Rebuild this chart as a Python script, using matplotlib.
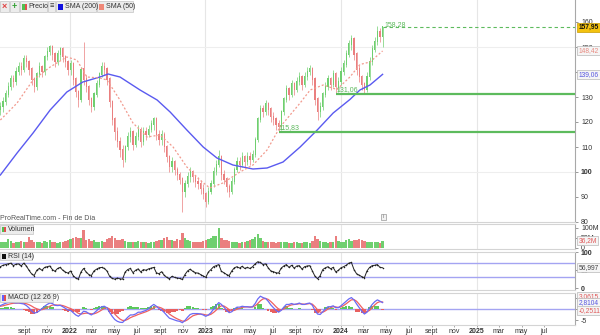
import matplotlib
matplotlib.use('Agg')
import matplotlib.pyplot as plt
import matplotlib.dates as mdates
from matplotlib.patches import Rectangle
import numpy as np
import pandas as pd

plt.rcParams['font.family'] = ['Liberation Sans', 'DejaVu Sans']
FS = 5.0
FSB = 4.8

# ---------------- data (weekly) ----------------
first_week = '2021-06-28'
first_open = 125
close = [126, 128, 131, 134, 137, 136, 140, 142, 141, 145,
         144, 141, 137, 134, 139, 142, 140, 146, 148, 150,
         147, 144, 147, 149, 146, 144, 141, 143, 137, 132,
         129, 141, 137, 134, 129, 126, 131, 135, 139, 142,
         141, 137, 128, 121, 116, 112, 109, 105, 110, 114,
         116, 111, 114, 117, 112, 116, 115, 117, 119, 121,
         115, 113, 115, 110, 106, 102, 104, 101, 99, 97,
         92, 95, 98, 100, 98, 96, 95, 93, 91, 88,
         92, 95, 100, 103, 106, 99, 97, 94, 92, 96,
         101, 104, 103, 106, 104, 106, 105, 107, 113, 121,
         125, 124, 127, 125, 122, 121, 119, 118, 124, 129,
         133, 131, 135, 133, 136, 138, 135, 138, 140, 141,
         137, 129, 124, 126, 131, 134, 137, 135, 139, 134,
         136, 140, 143, 147, 151, 153, 147, 141, 138, 135,
         133, 138, 144, 149, 152, 156, 154, 157.95]
high = [128, 130, 133, 136, 139, 139, 142, 144, 144, 147,
        147, 145, 142, 138, 140, 144, 143, 147, 150, 151,
        151, 148, 149, 150, 150, 147, 145, 145, 144, 138,
        133, 142, 152, 139, 135, 130, 132, 137, 140, 144,
        144, 142, 138, 129, 122, 118, 114, 111, 111, 116,
        118, 117, 116, 119, 118, 118, 118, 119, 121, 122,
        122, 117, 117, 116, 111, 107, 106, 105, 102, 100,
        98, 97, 100, 102, 101, 99, 98, 97, 95, 92,
        94, 97, 102, 105, 109, 107, 101, 98, 95, 98,
        102, 106, 106, 108, 107, 108, 108, 109, 114, 122,
        127, 127, 129, 128, 126, 124, 122, 121, 125, 130,
        135, 134, 137, 136, 138, 140, 139, 140, 142, 143,
        142, 138, 130, 128, 132, 136, 139, 138, 141, 140,
        138, 142, 145, 149, 153, 155, 154, 148, 143, 139,
        136, 140, 146, 151, 154, 158.28, 157.5, 158]
low = [123, 124, 127, 130, 133, 134, 135, 139, 139, 140,
       142, 139, 135, 132, 133, 138, 138, 139, 145, 147,
       145, 142, 143, 145, 144, 142, 139, 139, 135, 130,
       126, 128, 135, 132, 127, 124, 125, 130, 134, 138,
       139, 135, 126, 119, 113, 110, 106, 102, 104, 109,
       112, 109, 110, 113, 110, 111, 113, 114, 116, 117,
       113, 111, 111, 108, 104, 100, 100, 99, 97, 95,
       84, 90, 94, 96, 96, 94, 93, 91, 89, 86,
       87, 91, 94, 99, 102, 97, 95, 92, 90, 91,
       95, 100, 101, 102, 102, 103, 103, 104, 106, 112,
       120, 122, 123, 123, 120, 119, 117, 115.83, 117, 123,
       128, 129, 130, 131, 132, 135, 133, 134, 137, 139,
       135, 127, 121, 122, 125, 130, 133, 133, 134, 131.06,
       132, 135, 139, 142, 146, 149, 145, 139, 136, 133,
       131.3, 132, 137, 143, 148, 151, 152, 150]
volume_m = [28, 32, 30, 45, 34, 26, 30, 28, 35, 30,
            28, 55, 40, 32, 28, 30, 26, 35, 32, 38,
            30, 28, 26, 32, 30, 35, 38, 45, 50, 55,
            48, 52, 90, 40, 45, 35, 38, 32, 30, 35,
            32, 45, 52, 58, 50, 42, 38, 45, 35, 30,
            32, 28, 30, 35, 28, 32, 30, 26, 28, 30,
            35, 38, 42, 50, 55, 40, 38, 35, 45, 42,
            75, 50, 38, 35, 32, 30, 28, 32, 35, 38,
            45, 52, 58, 62, 100, 50, 40, 38, 35, 32,
            30, 28, 26, 30, 32, 35, 42, 45, 55, 68,
            50, 35, 30, 28, 32, 30, 26, 28, 32, 30,
            28, 26, 25, 30, 28, 25, 26, 30, 28, 26,
            35, 58, 45, 35, 30, 28, 26, 30, 32, 58,
            35, 30, 32, 38, 45, 35, 40, 38, 45, 40,
            35, 32, 28, 30, 28, 30, 26, 36.2]
rsi = [60, 64, 66, 68, 70, 63, 67, 68, 62, 70,
       62, 50, 40, 35, 50, 55, 50, 58, 60, 62,
       52, 47, 55, 58, 50, 45, 42, 48, 35, 28,
       25, 45, 55, 45, 38, 35, 48, 53, 57, 58,
       55, 48, 33, 27, 25, 28, 26, 25, 45, 52,
       55, 43, 50, 54, 45, 52, 50, 54, 56, 58,
       43, 40, 46, 36, 30, 26, 33, 30, 28, 27,
       24, 38, 48, 53, 47, 43, 42, 38, 34, 30,
       45, 52, 60, 63, 66, 47, 43, 38, 35, 48,
       57, 60, 56, 61, 55, 58, 55, 60, 68, 74,
       72, 66, 68, 57, 48, 46, 43, 42, 56, 62,
       66, 58, 64, 56, 62, 63, 53, 60, 62, 63,
       48, 33, 26, 35, 52, 57, 60, 54, 58, 45,
       50, 57, 60, 64, 70, 72, 52, 40, 36, 32,
       29, 48, 58, 63, 64, 66, 58, 56.997]
macd = [1.5, 2.0, 2.5, 2.8, 3.0, 2.8, 2.6, 2.7, 2.4, 2.2,
        1.5, 0.5, -0.8, -1.8, -1.5, -0.8, 0.2, 1.2, 2.0, 2.6,
        2.4, 1.6, 1.5, 1.6, 1.0, 0.3, -0.5, -0.6, -1.6, -2.6,
        -3.2, -2.2, -1.0, -1.2, -2.0, -2.6, -1.8, -0.8, 0.3, 1.0,
        1.2, 0.5, -1.5, -3.2, -4.6, -5.4, -5.8, -5.9, -4.8, -3.6,
        -2.6, -2.6, -2.2, -1.4, -1.4, -1.0, -0.6, 0.2, 1.2, 2.0,
        1.2, 0.2, -0.4, -1.5, -2.8, -4.0, -4.4, -4.8, -5.2, -5.4,
        -6.0, -5.0, -3.6, -2.4, -2.0, -2.0, -2.0, -2.2, -2.6, -3.2,
        -2.6, -1.6, 0.0, 1.5, 2.8, 2.0, 0.8, -0.6, -1.6, -1.2,
        0.0, 0.8, 0.8, 1.2, 1.0, 1.0, 0.8, 1.0, 2.4, 4.4,
        5.6, 5.0, 4.6, 3.4, 1.8, 0.6, -0.6, -1.4, -0.6, 0.8,
        2.0, 2.0, 2.4, 2.0, 2.2, 2.6, 2.0, 2.0, 2.4, 2.6,
        1.6, -0.6, -2.2, -2.4, -1.2, 0.0, 1.0, 1.0, 1.4, 0.6,
        0.6, 1.4, 2.4, 3.4, 4.4, 5.0, 4.0, 2.2, 0.6, -1.0,
        -2.2, -1.4, 0.4, 2.0, 3.2, 4.0, 3.4, 2.8104]
signal = [1.2, 1.4, 1.7, 2.0, 2.3, 2.5, 2.6, 2.6, 2.6, 2.5,
          2.3, 1.9, 1.3, 0.6, 0.1, -0.3, -0.3, 0.1, 0.6, 1.2,
          1.7, 1.8, 1.7, 1.7, 1.5, 1.1, 0.6, 0.2, -0.4, -1.1,
          -1.9, -2.2, -2.0, -1.8, -1.9, -2.1, -2.1, -1.7, -1.1, -0.4,
          0.3, 0.6, 0.0, -1.0, -2.2, -3.4, -4.4, -5.0, -5.0, -4.5,
          -3.8, -3.3, -2.9, -2.4, -2.0, -1.6, -1.2, -0.7, -0.1, 0.6,
          1.0, 0.8, 0.4, -0.3, -1.2, -2.2, -3.0, -3.7, -4.3, -4.8,
          -5.3, -5.3, -4.7, -3.8, -3.0, -2.6, -2.3, -2.2, -2.3, -2.6,
          -2.7, -2.3, -1.5, -0.5, 0.7, 1.4, 1.3, 0.6, -0.3, -0.8,
          -0.6, -0.1, 0.3, 0.7, 0.9, 0.9, 0.9, 0.9, 1.4, 2.4,
          3.6, 4.4, 4.6, 4.2, 3.3, 2.2, 1.0, 0.0, -0.4, 0.0,
          0.8, 1.4, 1.8, 2.0, 2.1, 2.3, 2.2, 2.1, 2.2, 2.4,
          2.1, 1.0, -0.4, -1.4, -1.4, -0.8, 0.0, 0.6, 1.0, 0.9,
          0.7, 0.9, 1.5, 2.3, 3.2, 4.0, 4.1, 3.4, 2.1, 0.7,
          -0.6, -1.2, -0.6, 0.6, 1.8, 2.8, 3.2, 3.0615]

sma200_dates = ['2021-06-28', '2021-08-12', '2021-09-24', '2021-11-09', '2021-12-24',
                '2022-02-05', '2022-03-23', '2022-04-14', '2022-05-16', '2022-07-09',
                '2022-08-24', '2022-09-28', '2022-11-12', '2022-12-26', '2023-02-01',
                '2023-03-16', '2023-05-09', '2023-06-16', '2023-07-29', '2023-09-13',
                '2023-10-29', '2023-12-11', '2024-01-25', '2024-02-21', '2024-03-19',
                '2024-04-22']
sma200 = [98.8, 107.6, 115.6, 124.8, 132.0, 136.0, 138.0, 139.2, 138.0, 132.8,
          128.8, 124.0, 116.8, 110.0, 105.6, 102.8, 101.2, 101.6, 104.0, 110.0,
          116.8, 123.6, 129.0, 132.8, 134.8, 139.06]
sma50_dates = ['2021-06-28', '2021-08-12', '2021-09-24', '2021-11-09', '2021-12-24',
               '2022-01-20', '2022-02-16', '2022-03-23', '2022-04-11', '2022-05-16',
               '2022-06-20', '2022-07-28', '2022-09-01', '2022-10-06', '2022-11-12',
               '2022-12-17', '2023-01-13', '2023-02-17', '2023-04-04', '2023-05-09',
               '2023-06-16', '2023-07-21', '2023-09-13', '2023-10-10', '2023-11-14',
               '2023-12-21', '2024-01-25', '2024-02-21', '2024-03-19', '2024-04-22']
sma50 = [120.8, 127.6, 136.8, 142.0, 146.0, 144.8, 138.0, 137.6, 136.8, 128.8,
         119.6, 114.0, 114.8, 110.0, 102.0, 96.8, 93.6, 95.6, 100.0, 102.8,
         108.8, 118.0, 127.6, 132.8, 134.8, 133.0, 138.0, 143.0, 144.0, 148.42]

support_levels = [115.83, 131.06]
last_price = 157.95
period_high = 158.28

x_start, x_end = '2021-06-27', '2025-09-22'
year_lines = ['2022-01-01', '2023-01-01', '2024-01-01', '2025-01-01']
tick_dates = ['2021-09-01', '2021-11-01', '2022-01-01', '2022-03-01', '2022-05-01', '2022-07-01',
              '2022-09-01', '2022-11-01', '2023-01-01', '2023-03-01', '2023-05-01', '2023-07-01',
              '2023-09-01', '2023-11-01', '2024-01-01', '2024-03-01', '2024-05-01', '2024-07-01',
              '2024-09-01', '2024-11-01', '2025-01-01', '2025-03-01', '2025-05-01', '2025-07-01']
tick_labels = ['sept', 'nov', '2022', 'mar', 'may', 'jul', 'sept', 'nov', '2023', 'mar', 'may', 'jul',
               'sept', 'nov', '2024', 'mar', 'may', 'jul', 'sept', 'nov', '2025', 'mar', 'may', 'jul']
price_ticks = [80, 90, 100, 110, 120, 130, 140, 150, 160]
price_tick_labels = ['80', '90', '100', '110', '120', '130', '', '150', '160']
vol_ticks = [0, 50, 100]
vol_tick_labels = ['0', '50M', '100M']
rsi_ticks = [0, 50, 100]
macd_ticks = [-5, 0, 5]

# ---------------- figure ----------------
W, H = 600, 335
fig = plt.figure(figsize=(W / 100, H / 100), dpi=100)
fig.patch.set_facecolor('white')


def fx(x):
    return x / W


def fy(y):
    return 1 - y / H


def add_ax(y0, y1, x0=0, x1=575):
    return fig.add_axes([fx(x0), fy(y1), (x1 - x0) / W, (y1 - y0) / H])


ax_p = add_ax(0, 222)
ax_v = add_ax(224, 249)
ax_r = add_ax(252, 290)
ax_m = add_ax(293, 325)
axes = [ax_p, ax_v, ax_r, ax_m]

UP, DN = '#6fcf6f', '#ea7f7f'
GREEN_LINE = '#5dbb5d'

dates = pd.date_range(first_week, periods=len(close), freq='7D')
d = mdates.date2num(dates)
cl = np.array(close, float)
hi = np.array(high, float)
lo = np.array(low, float)
op = np.r_[first_open, cl[:-1]]
cols = np.where(cl >= op, UP, DN)

xl = mdates.date2num(pd.Timestamp(x_start))
xr = mdates.date2num(pd.Timestamp(x_end))

for ax in axes:
    ax.set_xlim(xl, xr)
    ax.set_facecolor('white')
    ax.spines['left'].set_visible(False)
    ax.spines['right'].set_color('#a8a8a8')
    ax.spines['right'].set_linewidth(0.8)
    for s in ('top', 'bottom'):
        ax.spines[s].set_color('#d4d4d4')
        ax.spines[s].set_linewidth(0.8)
    ax.yaxis.tick_right()
    ax.tick_params(axis='y', direction='out', length=2.5, width=0.6, color='#888',
                   labelsize=FS, labelcolor='#333', pad=1.8)
    ax.tick_params(axis='x', length=0, labelbottom=False)
    for yd in year_lines:
        ax.axvline(mdates.date2num(pd.Timestamp(yd)), color='#e6e6e6', lw=0.8, zorder=0)
ax_p.spines['top'].set_visible(False)

# ---- price panel ----
ax_p.set_ylim(80, 168.8)
for g in (100, 150):
    ax_p.axhline(g, color='#eeeeee', lw=0.8, zorder=0)
ax_p.vlines(d, lo, hi, colors=cols, lw=0.5, zorder=3)
ax_p.bar(d, np.abs(cl - op) + 0.4, bottom=np.minimum(cl, op), width=3.0,
         color=cols, lw=0, zorder=3)
ax_p.plot(pd.to_datetime(sma200_dates), sma200, color='#5a5af0', lw=1.0, zorder=4)
ax_p.plot(pd.to_datetime(sma50_dates), sma50, color='#f29a8e', lw=0.9,
          linestyle=(0, (1.6, 1.6)), zorder=4)

for lvl in support_levels:
    idx = int(np.argmin(np.abs(lo - lvl)))
    ax_p.hlines(lvl, d[idx], xr, color=GREEN_LINE, lw=1.6, zorder=5)
    ax_p.text(d[idx] + 1, lvl + 0.7, f'{lvl:.2f}'.replace('.', ','), color='#5cb85c',
              fontsize=FS, ha='left', va='bottom', zorder=6)
ax_p.hlines(last_price, d[-1] + 2, xr, color=GREEN_LINE, lw=0.8,
            linestyles=(0, (3, 2.5)), zorder=5)
ax_p.text(d[-1] + 5, period_high + 0.6, f'{period_high:.2f}'.replace('.', ','),
          color='#5cb85c', fontsize=FS, ha='left', va='center', zorder=6)

ax_p.set_yticks(price_ticks)
ax_p.set_yticklabels(price_tick_labels)
for lbl in ax_p.get_yticklabels():
    if lbl.get_text() == '100':
        lbl.set_fontweight('bold')


def vbox(ax, y, txt, color, fc='#f5f5f5', ec='#b8b8b8', bold=False):
    ax.text(1.006, y, txt, transform=ax.get_yaxis_transform(), ha='left', va='center',
            fontsize=FSB, color=color, fontweight='bold' if bold else 'normal',
            bbox=dict(boxstyle='square,pad=0.15', fc=fc, ec=ec, lw=0.5),
            clip_on=False, zorder=20)


vbox(ax_p, sma50[-1], f'{sma50[-1]:.2f}'.replace('.', ','), '#e88a80')
vbox(ax_p, sma200[-1], f'{sma200[-1]:.2f}'.replace('.', ','), '#5555e0')
vbox(ax_p, last_price, f'{last_price:.2f}'.replace('.', ','), '#111', fc='#f3c20f',
     ec='#c89a00', bold=True)

# ---- volume panel ----
ax_v.set_ylim(-5, 120)
ax_v.bar(d, volume_m, width=6.2, color=cols, lw=0, zorder=3)
ax_v.set_yticks(vol_ticks)
ax_v.set_yticklabels(vol_tick_labels)
vbox(ax_v, volume_m[-1], f'{volume_m[-1]:.1f}M'.replace('.', ','), '#e05a5a')

# ---- RSI panel ----
ax_r.set_ylim(-5.6, 101.4)
ax_r.axhline(70, color='#a4a4f2', lw=1.0, zorder=1)
ax_r.axhline(30, color='#a4a4f2', lw=1.0, zorder=1)
ax_r.plot(d, rsi, color='#222222', lw=0.7, marker='o', ms=1.1, mew=0, zorder=3)
ax_r.set_yticks(rsi_ticks)
ax_r.set_yticklabels([str(t) for t in rsi_ticks])
for lbl in ax_r.get_yticklabels():
    if lbl.get_text() in ('0', '100'):
        lbl.set_fontweight('bold')
vbox(ax_r, rsi[-1], f'{rsi[-1]:.3f}'.replace('.', ','), '#444')

# ---- MACD panel ----
ax_m.set_ylim(-7, 7)
mac = np.array(macd)
sig = np.array(signal)
hist = mac - sig
ax_m.axhline(0, color='#a4a4f2', lw=1.0, zorder=1)
ax_m.bar(d, hist, width=6.2, color=np.where(hist >= 0, '#5cc85c', '#e86060'), lw=0, zorder=2)
ax_m.plot(d, sig, color='#f06060', lw=0.9, zorder=3)
ax_m.plot(d, mac, color='#6a6af5', lw=0.9, zorder=4)
ax_m.set_yticks(macd_ticks)
ax_m.set_yticklabels([str(t) for t in macd_ticks])
vbox(ax_m, 5.6, f'{signal[-1]:.4f}'.replace('.', ','), '#e05a5a')
vbox(ax_m, macd[-1], f'{macd[-1]:.4f}'.replace('.', ','), '#5555e0')
vbox(ax_m, hist[-1] - 0.4, f'{hist[-1]:.4f}'.replace('.', ','), '#e05a5a')

ax_m.set_xticks(mdates.date2num(pd.to_datetime(tick_dates)))
ax_m.set_xticklabels(tick_labels)
ax_m.tick_params(axis='x', length=1.5, width=0.6, color='#999', labelbottom=True,
                 labelsize=FS, labelcolor='#333', pad=1.0)
for lbl in ax_m.get_xticklabels():
    if lbl.get_text().isdigit():
        lbl.set_fontweight('bold')


# ---------------- header boxes / labels ----------------
def fbox(x0, y0, x1, y1, fc='#ececec', ec='#c4c4c4', lw=0.5):
    fig.patches.append(Rectangle((fx(x0), fy(y1)), (x1 - x0) / W, (y1 - y0) / H,
                                 transform=fig.transFigure, fc=fc, ec=ec, lw=lw, zorder=30))


def ftext(x, y, s, color='#333', size=FS, weight='normal', ha='left'):
    fig.text(fx(x), fy(y), s, color=color, fontsize=size, fontweight=weight,
             ha=ha, va='center', zorder=31)


fbox(0, 1, 9, 12)
ftext(4.5, 6.5, '×', color='#e04040', size=6.5, weight='bold', ha='center')
fbox(10, 1, 19, 12)
ftext(14.5, 6.5, '+', color='#30a030', size=6.5, weight='bold', ha='center')
fbox(20, 1, 47, 12)
fbox(22, 3.5, 24.5, 9.5, fc='#50c050', ec='none')
fbox(24.5, 3.5, 27, 9.5, fc='#e05050', ec='none')
ftext(28.5, 6.5, 'Precio')
fbox(48, 1, 55, 12)
ftext(51.5, 6.5, '≡', size=5.5, ha='center')
fbox(56, 1, 96, 12)
fbox(58, 3.5, 63, 9.5, fc='#1010e0', ec='none')
ftext(65, 6.5, 'SMA (200)')
fbox(97, 1, 133, 12)
fbox(99, 3.5, 104, 9.5, fc='#f08878', ec='none')
ftext(106, 6.5, 'SMA (50)')

ftext(0, 218.5, 'ProRealTime.com - Fin de Día', color='#555')
fbox(381, 214, 386, 220, fc='#f2f2f2', ec='#999')
ftext(383.5, 217, 'i', size=3.5, ha='center', color='#666')

fbox(0, 225, 33, 234)
fbox(2, 227, 4, 232, fc='#50c050', ec='none')
fbox(4, 227, 6, 232, fc='#e05050', ec='none')
ftext(8, 229.5, 'Volumen')

fbox(0, 252, 32, 260)
fbox(2, 253.5, 6, 258.5, fc='#111111', ec='none')
ftext(8, 256, 'RSI (14)')

fbox(0, 293, 53, 302)
fbox(2, 294.5, 4, 300.5, fc='#6060ff', ec='none')
fbox(4, 294.5, 6, 300.5, fc='#e05050', ec='none')
ftext(8, 297.5, 'MACD (12 26 9)')

fig.savefig('out.png', dpi=100, facecolor='white')
